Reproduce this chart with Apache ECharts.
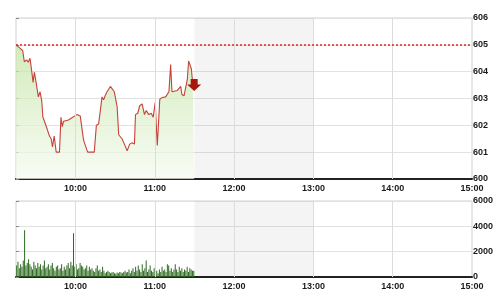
<!DOCTYPE html>
<html>
<head>
<meta charset="utf-8">
<script src="https://cdn.jsdelivr.net/npm/echarts@6/dist/echarts.min.js"></script>
<style>html,body{margin:0;padding:0;background:#fff;}#c{width:501px;height:300px;}</style>
</head>
<body>
<div id="c"></div>
<script>
// minutes after 9:15 open
var OPEN_MIN = 555; // 9:15 as minutes since midnight
var tickHours = ['10:00', '11:00', '12:00', '13:00', '14:00', '15:00'];
var prevClose = 605;
var lunchStart = 135; // 11:30
var lunchEnd = 225;   // 13:00

var priceTimes = [0, 3.0, 5.1, 6.3, 8.1, 9.3, 10.6, 12.2, 12.9, 13.9, 15.2, 16.9, 18.2, 19.5, 20.3, 23.3, 25.3, 26.6, 27.6, 28.9, 30.4, 32.9, 34, 35, 36, 37.2, 39.7, 42.3, 46.1, 48.6, 49.9, 51.1, 54.2, 59.2, 60.8, 62.5, 63.8, 65.1, 66.3, 67.6, 68.9, 71.4, 72.7, 74.4, 76.5, 77.7, 80.2, 82.0, 84.1, 86.0, 87.9, 89.6, 90.4, 92.1, 93.6, 95.4, 97.2, 98.5, 100.5, 102.3, 103.8, 105.3, 106.9, 107.9, 108.8, 110.7, 113.2, 114.5, 115.7, 117.0, 118.0, 119.5, 122.1, 123.6, 124.6, 125.5, 127.1, 128.6, 129.6, 130.6, 131.6, 132.7, 133.7, 134.8];
var priceValues = [605.0, 604.88, 604.78, 604.37, 604.44, 604.35, 604.5, 603.9, 603.6, 603.98, 603.6, 603.06, 603.25, 602.9, 602.32, 601.9, 601.6, 601.5, 601.2, 601.6, 601.0, 601.0, 602.3, 601.95, 602.15, 602.1, 602.2, 602.28, 602.4, 602.35, 602.4, 601.45, 601.0, 601.0, 602.0, 602.05, 602.55, 603.06, 602.95, 603.12, 603.25, 603.45, 603.4, 603.25, 602.7, 601.65, 601.5, 601.3, 601.05, 601.3, 601.35, 601.3, 602.4, 602.45, 602.73, 602.8, 602.4, 602.55, 602.4, 602.45, 602.3, 602.85, 601.25, 601.25, 602.97, 603.04, 603.06, 603.1, 603.25, 604.27, 603.25, 603.3, 603.3, 603.35, 603.45, 603.15, 603.1, 603.15, 603.7, 604.4, 604.4, 604.1, 603.55, 603.5];

var volumeValues = [
  900, 1200, 700, 1000, 800, 1300, 3700, 900, 1100, 1400,
  1000, 800, 600, 1200, 900, 700, 1100, 800, 1000, 600,
  900, 1300, 700, 800, 1000, 600, 900, 1100, 700, 500,
  800, 900, 600, 700, 1000, 500, 800, 600, 900, 1100,
  700, 1200, 900, 3450, 800, 1000, 600, 700, 1100, 900,
  800, 600, 700, 900, 500, 800, 600, 700, 500, 400,
  700, 900, 500, 600, 400, 800, 500, 300, 400, 500,
  400, 300, 350, 400, 300, 250, 350, 300, 400, 350,
  300, 400, 500, 350, 400, 600, 300, 500, 700, 400,
  800, 500, 900, 600, 400, 1000, 500, 700, 1300, 400,
  600, 900, 500, 400, 700, 1100, 500, 300, 600, 400,
  800, 500, 600, 400, 1000, 900, 500, 700, 400, 600,
  1000, 600, 400, 800, 500, 700, 400, 600, 500, 800,
  400, 700, 600, 500, 500
];

var priceData = priceTimes.map(function (t, i) { return [t, priceValues[i]]; });
var volData = volumeValues.map(function (v, i) { return [i + 0.5, v]; });

function hourLabel(v) {
  var m = OPEN_MIN + v;
  if (m % 60 === 0) return tickHours[(m / 60) - 10] || '';
  return '';
}
var gridLineMins = tickHours.slice(0, 5).map(function (h) { return parseInt(h, 10) * 60 - OPEN_MIN; });
var vLines = gridLineMins.map(function (m) { return { xAxis: m }; });

var labelStyle = { fontFamily: 'Liberation Sans', fontSize: 9, color: '#1a1a1a', fontWeight: 'bold' };

var chart = echarts.init(document.getElementById('c'), null, { renderer: 'canvas' });
chart.setOption({
  animation: false,
  backgroundColor: '#fff',
  grid: [
    { left: 16, right: 29, top: 18, height: 161, show: true, borderColor: '#d0d0d0', borderWidth: 1 },
    { left: 16, right: 29, top: 201, height: 76, show: true, borderColor: '#d0d0d0', borderWidth: 1 }
  ],
  xAxis: [0, 1].map(function (g) {
    return {
      type: 'value', gridIndex: g, min: 0, max: 345, interval: 15,
      axisLine: { show: true, lineStyle: { color: '#222', width: 2 } },
      axisTick: { show: false },
      splitLine: { show: false },
      axisLabel: Object.assign({ margin: 5, formatter: hourLabel, showMinLabel: true, showMaxLabel: true }, labelStyle)
    };
  }),
  yAxis: [
    {
      type: 'value', gridIndex: 0, position: 'right', min: 600, max: 606, interval: 1,
      axisLine: { show: false },
      axisTick: { show: true, length: 3, lineStyle: { color: '#888' } },
      splitLine: { show: true, lineStyle: { color: '#e2e2e2', width: 1 } },
      axisLabel: Object.assign({ margin: 1 }, labelStyle)
    },
    {
      type: 'value', gridIndex: 1, position: 'right', min: 0, max: 6000, interval: 2000,
      axisLine: { show: false },
      axisTick: { show: true, length: 3, lineStyle: { color: '#888' } },
      splitLine: { show: true, lineStyle: { color: '#e2e2e2', width: 1 } },
      axisLabel: Object.assign({ margin: 1, formatter: function (v) { return String(v); } }, labelStyle)
    }
  ],
  series: [
    {
      type: 'line', xAxisIndex: 0, yAxisIndex: 0, data: priceData,
      showSymbol: false, symbol: 'none', z: 3,
      lineStyle: { color: '#c8423a', width: 1.1 },
      areaStyle: {
        origin: 'start',
        color: new echarts.graphic.LinearGradient(0, 0, 0, 1, [
          { offset: 0, color: '#bfe3a0' },
          { offset: 1, color: '#f6fbf1' }
        ])
      },
      markArea: {
        silent: true,
        itemStyle: { color: 'rgba(0,0,0,0.045)' },
        data: [[{ xAxis: lunchStart }, { xAxis: lunchEnd }]]
      },
      markLine: {
        silent: true, symbol: 'none', label: { show: false },
        data: vLines.map(function (d) { return Object.assign({ lineStyle: { color: '#dcdcdc', width: 1, type: 'solid' } }, d); })
          .concat([{ yAxis: prevClose, lineStyle: { color: '#d8262a', width: 1.5, type: [2, 2] } }])
      },
      markPoint: {
        silent: true,
        symbol: 'path://M3,0 L9,0 L9,5 L12,5 L6,11 L0,5 L3,5 Z',
        symbolSize: [14, 12],
        itemStyle: { color: '#a5170d' },
        label: { show: false },
        data: [{ coord: priceData[priceData.length - 1] }]
      }
    },
    {
      type: 'bar', xAxisIndex: 1, yAxisIndex: 1, data: volData,
      barWidth: 1, z: 3,
      itemStyle: { color: '#2f6a22' },
      markArea: {
        silent: true,
        itemStyle: { color: 'rgba(0,0,0,0.045)' },
        data: [[{ xAxis: lunchStart }, { xAxis: lunchEnd }]]
      },
      markLine: {
        silent: true, symbol: 'none', label: { show: false },
        lineStyle: { color: '#dcdcdc', width: 1, type: 'solid' },
        data: vLines
      }
    }
  ]
});
</script>
</body>
</html>
